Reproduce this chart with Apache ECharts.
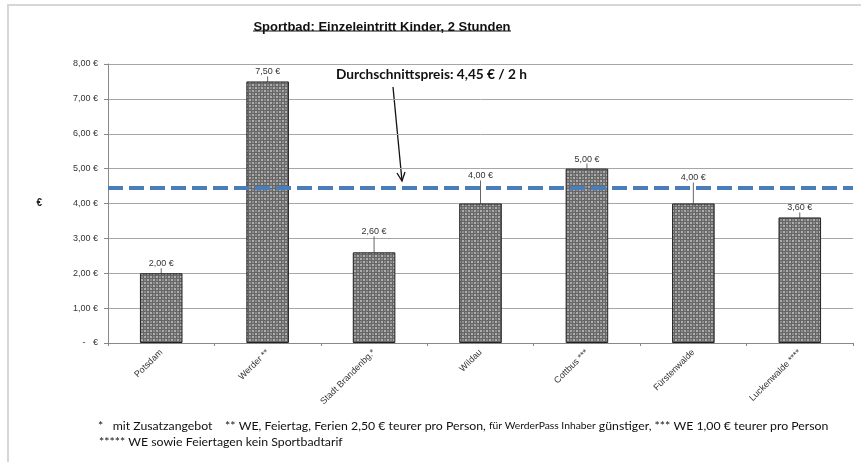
<!DOCTYPE html>
<html><head><meta charset="utf-8">
<script src="https://cdn.jsdelivr.net/npm/echarts@6/dist/echarts.min.js"></script>
<style>html,body{margin:0;padding:0;background:#fff}#c{width:861px;height:462px}</style>
</head><body><div id="c"></div>
<script>
const categories = ['Potsdam', 'Werder **', 'Stadt Brandenbg.*', 'Wildau', 'Cottbus ***', 'Fürstenwalde', 'Luckenwalde ****'];
const prices = [2.00, 7.50, 2.60, 4.00, 5.00, 4.00, 3.60];
const averagePrice = 4.45;
const yTicks = [0, 1, 2, 3, 4, 5, 6, 7, 8];

const labelLift = [0, 0, 11, 18, 0, 16, 0];

function euro(v) {
  return v === 0 ? '-   €' : v.toFixed(2).replace('.', ',') + ' €';
}

// checker pattern for bars
const pc = document.createElement('canvas');
pc.width = 6; pc.height = 6;
const g = pc.getContext('2d');
g.fillStyle = '#666666'; g.fillRect(0, 0, 6, 6);
g.fillStyle = '#adadad';
g.fillRect(0, 0, 2, 2); g.fillRect(3, 3, 2, 2);
g.fillStyle = '#8c8c8c';
g.fillRect(3, 0, 2, 2); g.fillRect(0, 3, 2, 2);

const chart = echarts.init(document.getElementById('c'), null, {renderer: 'canvas'});
const lab = {fontFamily: 'Liberation Sans, Arial', fontSize: 9, color: '#333'};
const noteFont = 'Lato, "Noto Sans", sans-serif';

chart.setOption({
  animation: false,
  backgroundColor: '#fff',
  title: {
    text: 'Sportbad: Einzeleintritt Kinder, 2 Stunden',
    left: 377, top: 16, textAlign: 'center',
    textStyle: {fontFamily: 'Liberation Sans, Arial', fontWeight: 'bold', fontSize: 13, color: '#111'}
  },
  grid: {left: 108, right: 8, top: 64, bottom: 119},
  xAxis: {
    type: 'category', data: categories,
    axisLine: {lineStyle: {color: '#888'}},
    axisTick: {show: true, length: 3, lineStyle: {color: '#888'}},
    axisLabel: Object.assign({rotate: 45, margin: 8, interval: 0}, lab)
  },
  yAxis: {
    type: 'value', min: 0, max: 8, interval: 1,
    name: '€', nameLocation: 'middle', nameGap: 66, nameRotate: 0,
    nameTextStyle: {fontFamily: 'Liberation Sans, Arial', fontSize: 10, fontWeight: 'bold', color: '#222'},
    axisLine: {show: true, lineStyle: {color: '#888'}},
    axisTick: {show: true, length: 4, lineStyle: {color: '#888'}},
    splitLine: {lineStyle: {color: '#a6a6a6'}},
    axisLabel: Object.assign({margin: 10, formatter: v => yTicks.indexOf(v) >= 0 ? euro(v) : ''}, lab)
  },
  series: [{
    type: 'bar',
    data: prices,
    barWidth: '40%',
    itemStyle: {color: {image: pc, repeat: 'repeat'}, borderColor: '#222', borderWidth: 1},
    label: Object.assign({show: true, position: 'top', distance: 5, formatter: p => euro(p.value)}, lab),
    labelLayout: p => ({dy: -labelLift[p.dataIndex]}),
    labelLine: {show: true, lineStyle: {color: '#666', width: 1}},
    markLine: {
      silent: true, symbol: ['none', 'none'],
      label: {show: false},
      lineStyle: {color: '#4a7ebb', width: 4, type: [15, 6]},
      data: [{yAxis: averagePrice}]
    }
  }],
  graphic: [
    {type: 'polyline', shape: {points: [[8, 470], [8, 5], [870, 5]]}, style: {stroke: '#d6d6d6', lineWidth: 2, fill: null}},
    {type: 'line', shape: {x1: 253, y1: 31, x2: 511, y2: 31}, style: {stroke: '#111', lineWidth: 1}},
    {type: 'text', left: 336, top: 68, style: {text: 'Durchschnittspreis: 4,45 € / 2 h', font: 'bold 13.7px ' + noteFont, fill: '#111'}},
    {type: 'line', shape: {x1: 393, y1: 87, x2: 402, y2: 181}, style: {stroke: '#111', lineWidth: 1.3}},
    {type: 'polyline', shape: {points: [[397, 173], [402, 181], [405, 172]]}, style: {stroke: '#111', lineWidth: 1.3, fill: null}},
    {type: 'text', left: 98, top: 420, style: {
      rich: {
        a: {fontFamily: noteFont, fontSize: 12.3, fill: '#111'},
        s: {fontFamily: noteFont, fontSize: 10.3, fill: '#111'}
      },
      text: '{a|*   mit Zusatzangebot    ** WE, Feiertag, Ferien 2,50 € teurer pro Person, }{s|für WerderPass Inhaber}{a| günstiger, *** WE 1,00 € teurer pro Person}',
      fill: '#111'
    }},
    {type: 'text', left: 99, top: 436, style: {text: '***** WE sowie Feiertagen kein Sportbadtarif', font: '12.3px ' + noteFont, fill: '#111'}}
  ]
});
</script></body></html>
